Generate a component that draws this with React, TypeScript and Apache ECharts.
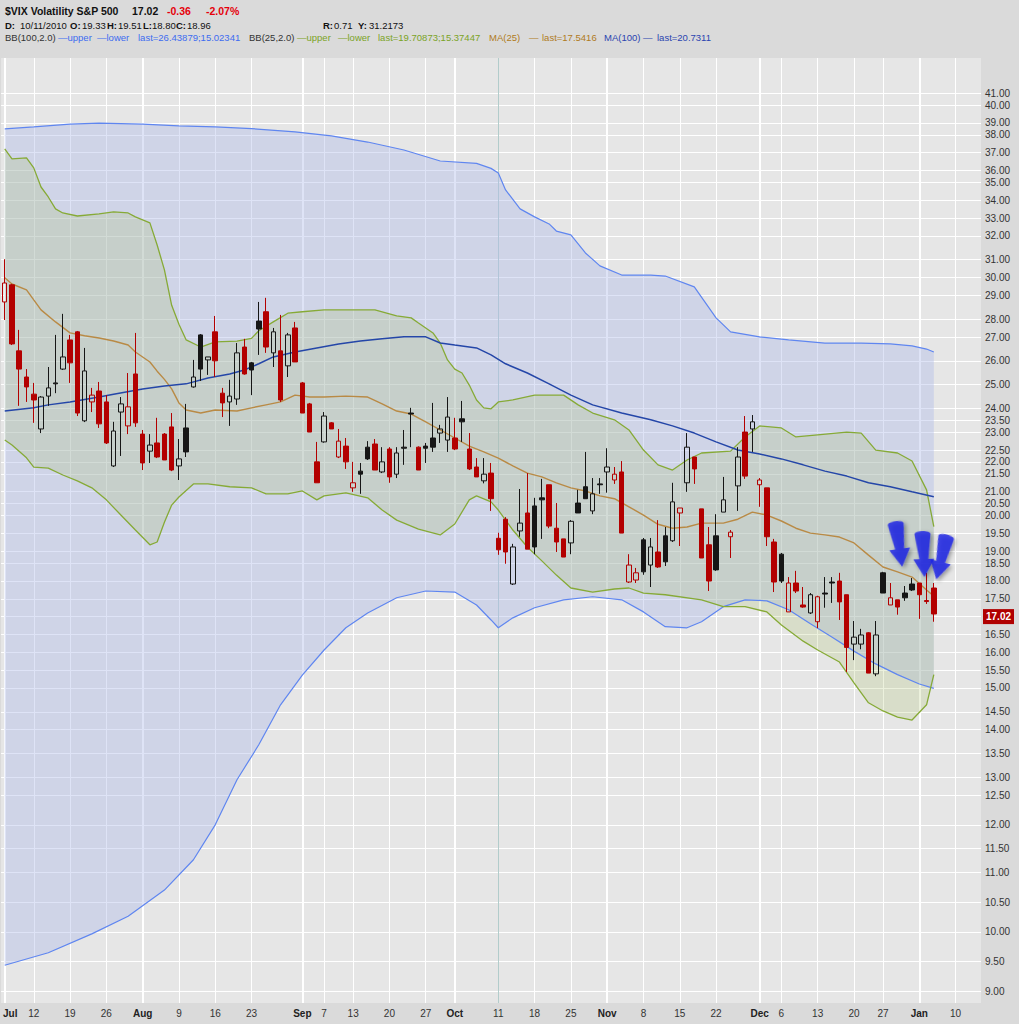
import React, { useEffect, useRef } from "react";
import * as echarts from "echarts";

// ---------- trading days (categories) ----------
const julDays = [6, 7, 8, 9, 12, 13, 14, 15, 16, 19, 20, 21, 22, 23, 26, 27, 28, 29, 30];
const augDays = [2, 3, 4, 5, 6, 9, 10, 11, 12, 13, 16, 17, 18, 19, 20, 23, 24, 25, 26, 27, 30, 31];
const sepDays = [1, 2, 3, 7, 8, 9, 10, 13, 14, 15, 16, 17, 20, 21, 22, 23, 24, 27, 28, 29, 30];
const octDays = [1, 4, 5, 6, 7, 8, 11, 12, 13, 14, 15, 18, 19, 20, 21, 22, 25, 26, 27, 28, 29];
const novDays = [1, 2, 3, 4, 5, 8, 9, 10, 11, 12, 15, 16, 17, 18, 19, 22, 23, 24, 26, 29, 30];
const decDays = [1, 2, 3, 6, 7, 8, 9, 10, 13, 14, 15, 16, 17, 20, 21, 22, 23, 27, 28, 29, 30, 31];
const janDays = [3, 4, 5, 6, 7, 10, 11, 12, 13];

const categories: string[] = [
  ...julDays.map((d) => `Jul ${d}`),
  ...augDays.map((d) => `Aug ${d}`),
  ...sepDays.map((d) => `Sep ${d}`),
  ...octDays.map((d) => `Oct ${d}`),
  ...novDays.map((d) => `Nov ${d}`),
  ...decDays.map((d) => `Dec ${d}`),
  ...janDays.map((d) => `Jan ${d}`),
];

// x tick labels: [category, label, isMonth]
const xTicks: [string, string, boolean][] = [
  ["Jul 6", "Jul", true], ["Jul 12", "12", false], ["Jul 19", "19", false], ["Jul 26", "26", false],
  ["Aug 2", "Aug", true], ["Aug 9", "9", false], ["Aug 16", "16", false], ["Aug 23", "23", false],
  ["Sep 1", "Sep", true], ["Sep 7", "7", false], ["Sep 13", "13", false], ["Sep 20", "20", false], ["Sep 27", "27", false],
  ["Oct 1", "Oct", true], ["Oct 11", "11", false], ["Oct 18", "18", false], ["Oct 25", "25", false],
  ["Nov 1", "Nov", true], ["Nov 8", "8", false], ["Nov 15", "15", false], ["Nov 22", "22", false],
  ["Dec 1", "Dec", true], ["Dec 6", "6", false], ["Dec 13", "13", false], ["Dec 20", "20", false], ["Dec 27", "27", false],
  ["Jan 3", "Jan", true], ["Jan 10", "10", false],
];

// y tick labels (log scale)
const yTicks = [
  "9.00", "9.50", "10.00", "10.50", "11.00", "11.50", "12.00", "12.50", "13.00", "13.50", "14.00", "14.50",
  "15.00", "15.50", "16.00", "16.50", "17.00", "17.50", "18.00", "18.50", "19.00", "19.50", "20.00", "20.50",
  "21.00", "21.50", "22.00", "22.50", "23.00", "23.50", "24.00", "25.00", "26.00", "27.00", "28.00", "29.00",
  "30.00", "31.00", "32.00", "33.00", "34.00", "35.00", "36.00", "37.00", "38.00", "39.00", "40.00", "41.00",
];

// ---------- OHLC ----------
const prevClose = 30.12; // close before first bar
const opens = [
  28.76, 29.6, 26.49, 25.35, 24.63, 23.23, 24.55, 25.1, 25.69, 26.98, 27.35, 23.55, 24.31, 24.76, 24.31, 21.83, 23.9, 23.35, 25.48, 23.03,
  22.38, 22.69, 23.03, 23.31, 21.83, 23.27, 24.93, 27.21, 26.09, 27.35, 24.67, 24.31, 24.43, 26.66, 25.96, 27.85, 28.29, 26.4, 26.49, 25.83,
  27.53, 25.1, 24.23, 21.98, 22.73, 23.47, 22.16, 22.57, 21.04, 21.64, 22.53, 22.65, 21.61, 22.46, 21.53, 22.53, 23.86, 22.53, 22.57, 22.88,
  23.07, 22.8, 22.88, 23.63, 22.46, 21.79, 21.29, 21.57, 19.33, 19.96, 17.9, 19.57, 20.17, 20.41, 20.69, 21.15, 19.66, 19.31, 19.18, 20.51,
  21.08, 20.24, 21.18, 21.61, 21.32, 21.61, 17.96, 18.02, 19.28, 18.48, 18.89, 19.41, 19.25, 20.17, 21.22, 22.16, 20.31, 19.12, 19.41, 20.2,
  19.38, 21.11, 23.11, 23.23, 21.15, 21.04, 19.21, 18.82, 17.08, 17.93, 17.28, 17.05, 16.8, 17.63, 17.96, 17.99, 17.58, 16.18, 16.18, 16.49,
  15.39, 18.24, 17.28, 17.43, 17.63, 17.9, 17.93, 17.41, 17.78,
];
const highs = [
  30.9, 29.65, 27.44, 25.69, 25.1, 24.55, 25.78, 27.21, 28.19, 27.21, 27.39, 26.62, 24.89, 25.14, 24.59, 23.51, 24.51, 25.52, 27.3, 23.19,
  23.03, 23.67, 23.07, 23.86, 22.84, 24.23, 26.09, 27.25, 26.22, 28.09, 24.89, 25.23, 26.84, 27.03, 26.0, 28.76, 28.96, 27.53, 28.14, 27.3,
  27.81, 25.14, 24.27, 22.73, 23.9, 23.5, 23.23, 22.88, 21.98, 21.94, 22.76, 22.84, 22.53, 22.53, 22.53, 23.19, 24.07, 22.56, 22.69, 24.27,
  23.39, 24.51, 23.67, 24.35, 23.07, 22.12, 22.12, 21.94, 19.51, 20.03, 19.15, 21.0, 21.57, 20.69, 21.36, 21.15, 20.51, 19.31, 19.93, 20.97,
  22.35, 21.39, 21.39, 22.49, 21.79, 22.01, 18.82, 18.39, 19.34, 19.34, 19.93, 19.7, 21.22, 20.34, 23.07, 22.16, 20.31, 19.7, 20.13, 21.43,
  19.6, 22.53, 23.74, 23.78, 21.39, 21.04, 19.31, 18.86, 18.11, 18.3, 17.81, 17.63, 17.55, 18.11, 18.11, 18.24, 17.58, 16.82, 16.6, 16.51,
  16.82, 18.27, 17.93, 17.43, 17.84, 18.08, 17.93, 18.24, 17.93,
];
const lows = [
  27.9, 26.75, 24.15, 24.31, 23.47, 23.07, 24.15, 24.67, 25.65, 25.1, 23.74, 23.5, 23.9, 23.27, 22.65, 21.79, 22.2, 23.03, 23.31, 21.68,
  21.94, 22.12, 22.05, 21.64, 21.32, 22.16, 24.9, 25.18, 25.44, 25.35, 23.7, 23.35, 24.19, 25.45, 24.59, 26.31, 26.4, 25.78, 24.31, 25.35,
  26.0, 23.86, 23.11, 21.22, 22.7, 23.23, 22.12, 21.72, 20.9, 20.83, 22.05, 21.68, 21.57, 21.22, 21.39, 21.87, 22.53, 21.68, 21.94, 22.35,
  22.69, 22.35, 22.42, 22.73, 21.68, 21.43, 21.2, 20.24, 18.8, 18.52, 17.87, 19.38, 18.98, 18.82, 19.31, 19.66, 18.89, 18.73, 18.82, 20.17,
  20.66, 20.13, 20.83, 20.87, 21.18, 19.5, 17.93, 17.93, 18.18, 17.81, 18.39, 18.45, 19.21, 19.08, 20.9, 21.18, 18.7, 17.69, 18.3, 20.2,
  18.7, 20.24, 21.36, 22.35, 20.38, 19.08, 17.66, 17.93, 17.08, 17.63, 17.2, 17.02, 16.62, 17.2, 17.34, 16.85, 15.44, 15.75, 16.04, 15.41,
  15.33, 17.63, 17.28, 17.0, 17.4, 17.69, 16.88, 17.31, 16.8,
];
const closes = [
  29.69, 26.8, 25.69, 24.93, 24.39, 24.51, 24.89, 25.06, 26.22, 25.96, 23.86, 25.61, 24.59, 23.43, 22.69, 23.15, 24.23, 24.11, 23.47, 21.94,
  22.61, 22.16, 22.05, 21.68, 22.09, 22.35, 25.35, 25.69, 26.22, 26.05, 24.27, 24.55, 26.4, 25.48, 25.65, 27.48, 26.66, 27.35, 24.39, 27.21,
  26.0, 23.86, 23.11, 21.22, 23.74, 23.23, 22.76, 21.98, 21.22, 21.53, 22.09, 21.68, 21.98, 21.43, 22.31, 22.49, 23.82, 21.68, 22.49, 22.53,
  23.23, 23.7, 22.46, 23.51, 21.72, 21.43, 21.53, 20.66, 18.96, 18.89, 19.05, 19.83, 18.98, 19.05, 20.62, 19.73, 19.21, 18.73, 19.89, 20.17,
  20.66, 20.83, 21.15, 21.79, 21.53, 19.5, 18.48, 18.24, 18.27, 19.05, 18.42, 18.58, 20.55, 20.34, 22.53, 21.72, 18.7, 17.99, 18.33, 20.62,
  19.53, 22.16, 21.46, 23.51, 21.32, 19.38, 17.96, 17.99, 17.93, 17.69, 17.22, 17.58, 17.52, 17.6, 17.93, 17.37, 16.09, 16.37, 16.43, 15.41,
  16.43, 17.63, 17.49, 17.22, 17.49, 17.72, 17.58, 17.38, 17.02,
];

// ---------- overlays: [day index, value] ----------
const bb100Upper: [number, number][] = [
  [0, 38.47], [4, 38.6], [9, 38.78], [13, 38.84], [19, 38.78], [24, 38.66], [29, 38.6], [34, 38.49], [40, 38.28], [45, 38.02],
  [50, 37.63], [55, 37.13], [60, 36.45], [65, 36.3], [67, 36.0], [68, 35.72], [69, 34.72], [71, 33.63], [73, 33.18], [75, 32.79],
  [76, 32.4], [78, 32.19], [80, 31.23], [82, 30.56], [85, 30.09], [89, 30.09], [91, 30.04], [95, 29.5], [98, 28.0], [100, 27.35],
  [104, 27.12], [108, 26.98], [113, 26.84], [118, 26.84], [122, 26.8], [125, 26.71], [127, 26.57], [128, 26.44],
];
const bb100Lower: [number, number][] = [
  [0, 9.43], [6, 9.63], [12, 9.94], [17, 10.24], [22, 10.7], [26, 11.26], [29, 11.94], [32, 12.88], [35, 13.66], [38, 14.61],
  [41, 15.36], [44, 16.02], [47, 16.63], [50, 17.05], [54, 17.49], [58, 17.69], [62, 17.66], [65, 17.28], [67, 16.85], [68, 16.63],
  [70, 16.91], [73, 17.2], [77, 17.43], [81, 17.52], [85, 17.43], [88, 17.08], [91, 16.66], [94, 16.63], [96, 16.8], [99, 17.23],
  [102, 17.43], [105, 17.4], [108, 17.14], [111, 16.74], [114, 16.37], [117, 15.99], [120, 15.65], [123, 15.37], [126, 15.13], [128, 15.02],
];
const bb25Upper: [number, number][] = [
  [0, 37.2], [1, 36.58], [3, 36.64], [4, 36.03], [5, 34.89], [6, 34.31], [7, 33.63], [8, 33.4], [10, 33.23], [13, 33.35],
  [15, 33.46], [17, 33.4], [18, 33.18], [20, 32.85], [21, 31.65], [22, 30.35], [23, 28.6], [24, 27.7], [25, 26.98], [27, 26.66],
  [29, 26.89], [32, 26.93], [34, 27.05], [35, 27.4], [37, 27.81], [39, 28.22], [41, 28.29], [44, 28.38], [48, 28.38], [51, 28.38],
  [54, 28.09], [56, 28.0], [57, 27.76], [59, 27.3], [60, 26.84], [61, 26.09], [62, 25.69], [63, 25.52], [64, 25.01], [65, 24.39],
  [66, 24.07], [67, 24.03], [68, 24.31], [70, 24.39], [73, 24.59], [77, 24.59], [79, 24.19], [81, 23.86], [84, 23.59], [86, 23.19],
  [88, 22.42], [90, 21.87], [92, 21.68], [94, 22.05], [96, 22.31], [100, 22.38], [102, 22.92], [104, 23.35], [107, 23.27], [109, 22.92],
  [112, 23.0], [116, 23.11], [118, 23.07], [120, 22.42], [123, 22.31], [125, 22.01], [127, 20.97], [128, 19.71],
];
const bb25Lower: [number, number][] = [
  [0, 22.8], [1, 22.61], [3, 22.13], [4, 21.79], [6, 21.75], [8, 21.5], [10, 21.29], [12, 21.04], [14, 20.62], [16, 20.1],
  [18, 19.6], [20, 19.12], [21, 19.21], [22, 19.86], [23, 20.44], [24, 20.72], [26, 21.18], [28, 21.18], [31, 21.08], [34, 21.04],
  [36, 20.83], [39, 20.83], [41, 20.93], [43, 20.62], [44, 20.76], [47, 20.86], [50, 20.69], [52, 20.27], [54, 19.93], [57, 19.63],
  [60, 19.44], [62, 19.8], [64, 20.62], [65, 20.76], [67, 20.55], [68, 20.27], [70, 19.6], [72, 19.05], [74, 18.61], [76, 18.17],
  [78, 17.78], [81, 17.66], [84, 17.75], [86, 17.78], [88, 17.63], [91, 17.58], [96, 17.43], [99, 17.23], [102, 17.23], [105, 17.08],
  [107, 16.71], [110, 16.26], [112, 16.02], [115, 15.7], [117, 15.16], [119, 14.66], [121, 14.46], [123, 14.31], [125, 14.24], [127, 14.61],
  [128, 15.37],
];
const ma25: [number, number][] = [
  [0, 29.95], [1, 29.64], [3, 29.35], [4, 28.86], [5, 28.38], [7, 27.81], [9, 27.3], [11, 27.17], [13, 27.07], [15, 26.93],
  [17, 26.75], [18, 26.44], [20, 26.0], [21, 25.6], [22, 25.25], [23, 24.85], [24, 24.27], [25, 23.98], [27, 23.86], [29, 23.98],
  [32, 23.94], [34, 24.07], [36, 24.19], [38, 24.31], [40, 24.59], [42, 24.51], [44, 24.51], [47, 24.55], [50, 24.51], [52, 24.23],
  [54, 23.94], [56, 23.82], [58, 23.51], [60, 23.19], [62, 22.88], [64, 22.57], [66, 22.35], [68, 22.12], [70, 21.83], [72, 21.57],
  [74, 21.43], [76, 21.22], [78, 21.04], [80, 20.93], [82, 20.76], [84, 20.66], [86, 20.38], [88, 20.1], [90, 19.79], [92, 19.66],
  [94, 19.7], [96, 19.83], [99, 19.83], [101, 19.96], [103, 20.2], [105, 20.1], [107, 19.9], [109, 19.66], [111, 19.5], [113, 19.44],
  [115, 19.37], [117, 19.18], [119, 18.79], [121, 18.42], [123, 18.27], [125, 18.11], [127, 17.72], [128, 17.54],
];
const ma100: [number, number][] = [
  [0, 23.94], [4, 24.07], [6, 24.19], [9, 24.31], [13, 24.51], [15, 24.63], [19, 24.84], [22, 24.97], [25, 25.06], [28, 25.31],
  [31, 25.48], [33, 25.65], [35, 25.92], [37, 26.22], [40, 26.44], [43, 26.62], [46, 26.8], [49, 26.93], [52, 27.03], [55, 27.12],
  [58, 27.12], [60, 26.84], [62, 26.75], [65, 26.62], [67, 26.31], [69, 25.92], [72, 25.52], [75, 25.06], [78, 24.59], [81, 24.19],
  [85, 23.86], [89, 23.59], [92, 23.35], [95, 23.07], [98, 22.73], [101, 22.42], [104, 22.27], [107, 22.09], [110, 21.87], [113, 21.64],
  [116, 21.46], [119, 21.22], [122, 21.08], [125, 20.9], [128, 20.73],
];

// annotation arrows: tip position [day index, value], rotation
const arrows = [
  { i: 123.2, v: 18.42, rot: 8 },
  { i: 126.6, v: 18.11, rot: 2 },
  { i: 129.1, v: 18.02, rot: -14 },
];

const lastPrice = 17.02;
const cursorDay = "Oct 11";

const L = Math.log;
const FONT = '"Liberation Sans", Arial, sans-serif';

const RED = "#b30000";
const BLACK = "#161616";

function band(upper: [number, number][], lower: [number, number][], fill: string, z: number) {
  return {
    type: "custom",
    xAxisIndex: 1,
    yAxisIndex: 0,
    silent: true,
    z,
    data: [[0, 3]],
    renderItem: (params: any, api: any) => {
      const pts: number[][] = upper.map(([i, v]) => api.coord([i, L(v)]));
      for (let k = lower.length - 1; k >= 0; k--) pts.push(api.coord([lower[k][0], L(lower[k][1])]));
      return { type: "polygon", shape: { points: pts }, style: { fill } };
    },
  };
}

function lineSeries(d: [number, number][], color: string, width: number) {
  return {
    type: "line",
    xAxisIndex: 1,
    yAxisIndex: 0,
    silent: true,
    z: 4,
    symbol: "none",
    showSymbol: false,
    data: d.map(([i, v]) => [i, L(v)]),
    lineStyle: { color, width },
  };
}

type HeaderItem = [string, number, number, string, boolean, number];
const headerItems: HeaderItem[] = [
  ["$VIX Volatility S&P 500", 5, 11, "#111", true, 10.5],
  ["17.02", 132, 11, "#111", true, 10.5],
  ["-0.36", 167, 11, "#e5000a", true, 10.5],
  ["-2.07%", 206, 11, "#e5000a", true, 10.5],
  ["D:", 5, 25, "#111", true, 9.5],
  ["10/11/2010", 20, 25, "#111", false, 9.5],
  ["O:", 70, 25, "#111", true, 9.5],
  ["19.33", 82, 25, "#111", false, 9.5],
  ["H:", 107, 25, "#111", true, 9.5],
  ["19.51", 118, 25, "#111", false, 9.5],
  ["L:", 143, 25, "#111", true, 9.5],
  ["18.80", 152, 25, "#111", false, 9.5],
  ["C:", 176, 25, "#111", true, 9.5],
  ["18.96", 187, 25, "#111", false, 9.5],
  ["R:", 323, 25, "#111", true, 9.5],
  ["0.71", 334, 25, "#111", false, 9.5],
  ["Y:", 358, 25, "#111", true, 9.5],
  ["31.2173", 369, 25, "#111", false, 9.5],
  ["BB(100,2.0)", 5, 37, "#333", false, 9.5],
  ["\u2014upper", 58, 37, "#3d6cf0", false, 9.5],
  ["\u2014lower", 97, 37, "#3d6cf0", false, 9.5],
  ["last=26.43879;15.02341", 138, 37, "#3d6cf0", false, 9.5],
  ["BB(25,2.0)", 249, 37, "#333", false, 9.5],
  ["\u2014upper", 297, 37, "#7aa326", false, 9.5],
  ["\u2014lower", 338, 37, "#7aa326", false, 9.5],
  ["last=19.70873;15.37447", 378, 37, "#7aa326", false, 9.5],
  ["MA(25)", 489, 37, "#b07a22", false, 9.5],
  ["\u2014", 529, 37, "#b07a22", false, 9.5],
  ["last=17.5416", 542, 37, "#b07a22", false, 9.5],
  ["MA(100)", 604, 37, "#2a44b0", false, 9.5],
  ["\u2014", 643, 37, "#2a44b0", false, 9.5],
  ["last=20.7311", 657, 37, "#2a44b0", false, 9.5],
];

export default function App() {
  const ref = useRef<HTMLDivElement>(null);
  useEffect(() => {
    if (!ref.current) return;
    const chart = echarts.init(ref.current, undefined, { renderer: "svg" });

    const candleData = opens.map((o, k) => {
      const c = closes[k];
      const pc = k === 0 ? prevClose : closes[k - 1];
      const col = c < pc ? RED : BLACK;
      const filled = c < o;
      const fill = filled ? col : "rgba(0,0,0,0)";
      return {
        value: [L(o), L(c), L(lows[k]), L(highs[k])],
        itemStyle: { color: fill, color0: fill, borderColor: col, borderColor0: col, borderWidth: 1 },
      };
    });

    const tickMap: Record<string, [string, boolean]> = {};
    xTicks.forEach(([cat, lab, m]) => (tickMap[cat] = [lab, m]));

    const gridLines: any[] = [
      ...yTicks.map((t) => ({
        yAxis: L(parseFloat(t)),
        lineStyle: { color: "#ffffff", width: 1, type: "solid" },
        label: { show: true, position: "end", formatter: t, color: "#333", fontSize: 10, fontFamily: FONT, distance: 4 },
      })),
      ...xTicks.map(([cat, , m]) => ({
        xAxis: cat,
        lineStyle: { color: "#ffffff", width: m ? 2 : 1, type: "solid" },
        label: { show: false },
      })),
      {
        xAxis: cursorDay,
        lineStyle: { color: "#b2cccb", width: 1, type: "solid" },
        label: { show: false },
      },
    ];

    const option: any = {
      animation: false,
      backgroundColor: "#dadada",
      textStyle: { fontFamily: FONT },
      grid: {
        left: 1,
        right: 38,
        top: 58,
        bottom: 21,
        show: true,
        backgroundColor: "#e6e6e6",
        borderWidth: 0,
      },
      xAxis: [
        {
          type: "category",
          data: categories,
          boundaryGap: true,
          axisLine: { show: false },
          axisTick: { show: false },
          splitLine: { show: false },
          axisLabel: {
            interval: (idx: number, val: string) => !!tickMap[val],
            formatter: (val: string) => {
              const t = tickMap[val];
              if (!t) return "";
              if (val === categories[0]) return `{first|${t[0]}}`;
              return t[1] ? `{m|${t[0]}}` : `{d|${t[0]}}`;
            },
            margin: 5,
            rich: {
              first: { fontWeight: "bold", fontSize: 10, color: "#222", fontFamily: FONT, padding: [0, 0, 0, 11] },
              m: { fontWeight: "bold", fontSize: 10, color: "#222", fontFamily: FONT },
              d: { fontSize: 10, color: "#333", fontFamily: FONT },
            },
          },
        },
        {
          type: "value",
          min: -0.5,
          max: categories.length - 0.5,
          show: false,
        },
      ],
      yAxis: {
        type: "value",
        min: L(8.85),
        max: L(43.34),
        show: false,
        splitLine: { show: false },
      },
      graphic: headerItems.map(([text, x, y, color, bold, size]) => ({
        type: "text",
        x,
        y,
        silent: true,
        style: {
          text,
          fill: color,
          fontSize: size,
          fontFamily: FONT,
          fontWeight: bold ? "bold" : "normal",
          verticalAlign: "middle",
        },
      })),
      series: [
        {
          type: "line",
          name: "grid",
          xAxisIndex: 0,
          yAxisIndex: 0,
          z: 1,
          silent: true,
          symbol: "none",
          data: categories.map(() => "-"),
          markLine: {
            silent: true,
            z: 1,
            symbol: ["none", "none"],
            animation: false,
            data: gridLines,
          },
        },
        band(bb100Upper, bb100Lower, "rgba(176,188,234,0.42)", 2),
        band(bb25Upper, bb25Lower, "rgba(168,190,100,0.22)", 3),
        lineSeries(bb100Upper, "#5f86f0", 1.2),
        lineSeries(bb100Lower, "#5f86f0", 1.2),
        lineSeries(bb25Upper, "#86aa36", 1.3),
        lineSeries(bb25Lower, "#86aa36", 1.3),
        lineSeries(ma25, "#b98a45", 1.4),
        lineSeries(ma100, "#2446a8", 1.5),
        {
          type: "candlestick",
          xAxisIndex: 0,
          yAxisIndex: 0,
          z: 6,
          barWidth: 5,
          silent: true,
          data: candleData,
          markLine: {
            silent: true,
            z: 10,
            symbol: ["none", "none"],
            animation: false,
            data: [
              {
                yAxis: L(lastPrice),
                lineStyle: { color: "rgba(0,0,0,0)", width: 1 },
                label: {
                  show: true,
                  position: "end",
                  distance: 2,
                  formatter: lastPrice.toFixed(2),
                  backgroundColor: "#b00000",
                  color: "#ffffff",
                  fontWeight: "bold",
                  fontSize: 10,
                  fontFamily: FONT,
                  padding: [3, 3, 2, 3],
                },
              },
            ],
          },
        },
        {
          type: "scatter",
          xAxisIndex: 1,
          yAxisIndex: 0,
          z: 8,
          silent: true,
          symbol: "path://M2,3 C2,-1 18,-1 18,3 L15,28 L21,28 L10.5,46 L0,28 L6,28 Z",
          symbolSize: [21, 46],
          symbolOffset: [0, "-50%"],
          itemStyle: {
            color: "#1d22e6",
            shadowBlur: 4,
            shadowColor: "rgba(0,0,0,0.45)",
            shadowOffsetX: 2,
            shadowOffsetY: 2,
          },
          data: arrows.map((a) => ({ value: [a.i, L(a.v)], symbolRotate: a.rot })),
        },
      ],
    };

    chart.setOption(option);
    return () => chart.dispose();
  }, []);

  return (
    <div
      ref={ref}
      style={{ position: "fixed", left: 0, top: 0, width: 1019, height: 1024 }}
    />
  );
}
